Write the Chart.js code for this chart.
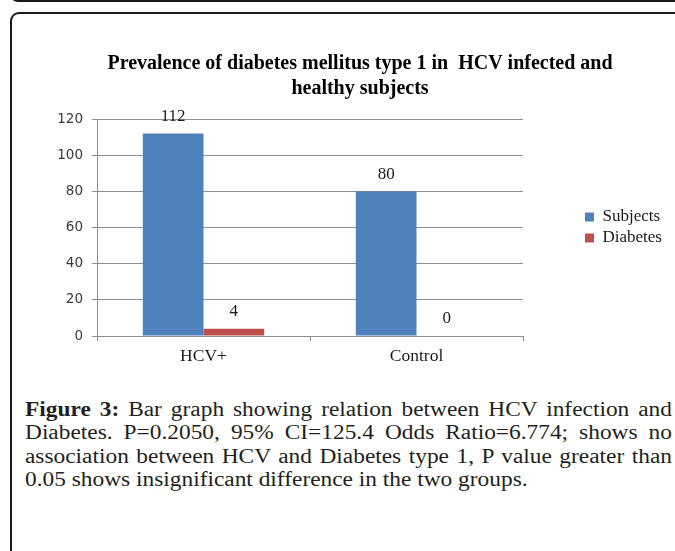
<!DOCTYPE html>
<html>
<head>
<meta charset="utf-8">
<script src="https://cdn.jsdelivr.net/npm/chart.js@4/dist/chart.umd.min.js"></script>
<style>
html,body{margin:0;padding:0;width:675px;height:551px;overflow:hidden;background:#fff;}
#topline{position:absolute;left:10px;top:-10px;width:700px;height:10px;border-bottom:2px solid #1a1a1a;border-left:2px solid #1a1a1a;border-bottom-left-radius:8px;}
#box{position:absolute;left:10px;top:12px;width:700px;height:600px;border:2px solid #1a1a1a;border-top-left-radius:9px;}
#wrap{position:absolute;left:0;top:0;width:675px;height:390px;}
#caption{position:absolute;left:25px;top:398px;width:567.5px;font-family:"Liberation Serif",serif;font-size:20.5px;line-height:23.4px;color:#231f20;transform:scaleX(1.14);transform-origin:0 0;}
#caption .j{text-align:justify;text-align-last:justify;white-space:nowrap;}
#caption .l{text-align:left;white-space:nowrap;}
</style>
</head>
<body>
<div id="topline"></div>
<div id="box"></div>
<div id="wrap"><canvas id="c"></canvas></div>
<div id="caption">
<div class="j"><b>Figure 3:</b> Bar graph showing relation between HCV infection and</div>
<div class="j">Diabetes. P=0.2050, 95% CI=125.4 Odds Ratio=6.774; shows no</div>
<div class="j">association between HCV and Diabetes type 1, P value greater than</div>
<div class="l">0.05 shows insignificant difference in the two groups.</div>
</div>
<script>
// ---- data ----
const categories = ['HCV+', 'Control'];
const seriesNames = ['Subjects', 'Diabetes'];
const subjects = [112, 80];
const diabetes = [4, 0];
const yTicks = [0, 20, 40, 60, 80, 100, 120];
const titleLines = ['Prevalence of diabetes mellitus type 1 in  HCV infected and', 'healthy subjects'];

const gridColor = '#8e8e8e';
const LEGEND_W = 152;
const LEGEND_SHIFT = 58;

const valueLabels = {
  id: 'valueLabels',
  afterDatasetsDraw(chart) {
    const ctx = chart.ctx;
    ctx.save();
    ctx.font = '17px "Liberation Serif"';
    ctx.fillStyle = '#1a1a1a';
    ctx.textAlign = 'center';
    ctx.textBaseline = 'middle';
    chart.data.datasets.forEach((ds, i) => {
      chart.getDatasetMeta(i).data.forEach((bar, j) => {
        ctx.fillText(String(ds.data[j]), bar.x, bar.y - 17);
      });
    });
    ctx.restore();
  }
};

const legendPlace = {
  id: 'legendPlace',
  beforeLayout(chart) {
    const lg = chart.legend;
    if (lg && !lg._patched) {
      const f = lg.fit;
      lg.fit = function () { f.call(this); this.width = LEGEND_W; };
      lg._patched = true;
    }
  },
  afterLayout(chart) {
    const lg = chart.legend;
    if (lg) { lg.left += LEGEND_SHIFT; lg.right += LEGEND_SHIFT; }
  }
};

new Chart(document.getElementById('c'), {
  type: 'bar',
  data: {
    labels: categories,
    datasets: [
      { label: seriesNames[0], data: subjects, backgroundColor: '#4F81BD', borderWidth: 0 },
      { label: seriesNames[1], data: diabetes, backgroundColor: '#C0504D', borderWidth: 0 }
    ]
  },
  options: {
    responsive: true,
    maintainAspectRatio: false,
    animation: false,
    categoryPercentage: 0.57,
    barPercentage: 1.0,
    layout: { padding: { left: 45, right: 0, top: 0, bottom: 0 } },
    plugins: {
      tooltip: { enabled: false },
      title: {
        display: true,
        text: titleLines,
        color: '#000',
        font: { family: 'Liberation Serif', size: 20, weight: 'bold', lineHeight: '25px' },
        padding: { top: 51, bottom: 18 }
      },
      legend: {
        display: true,
        position: 'right',
        fullSize: false,
        align: 'center',
        labels: {
          boxWidth: 9,
          boxHeight: 9,
          padding: 4,
          color: '#1a1a1a',
          font: { family: 'Liberation Serif', size: 17 }
        }
      }
    },
    scales: {
      x: {
        grid: { display: true, drawOnChartArea: false, drawTicks: true, tickLength: 5, color: gridColor, offset: true },
        border: { display: true, color: gridColor },
        ticks: { font: { family: 'Liberation Serif', size: 17.5 }, color: '#1a1a1a', padding: 5 },
        afterFit(s) { s.height = 54; }
      },
      y: {
        min: 0,
        max: 120,
        afterBuildTicks(s) { s.ticks = yTicks.map(v => ({ value: v })); },
        ticks: { font: { family: 'DejaVu Sans', size: 13.5 }, color: '#3a3a3a', padding: 9 },
        grid: { color: gridColor, tickLength: 5 },
        border: { color: gridColor },
        afterFit(s) { s.width = 52; }
      }
    }
  },
  plugins: [valueLabels, legendPlace]
});
</script>
</body>
</html>
